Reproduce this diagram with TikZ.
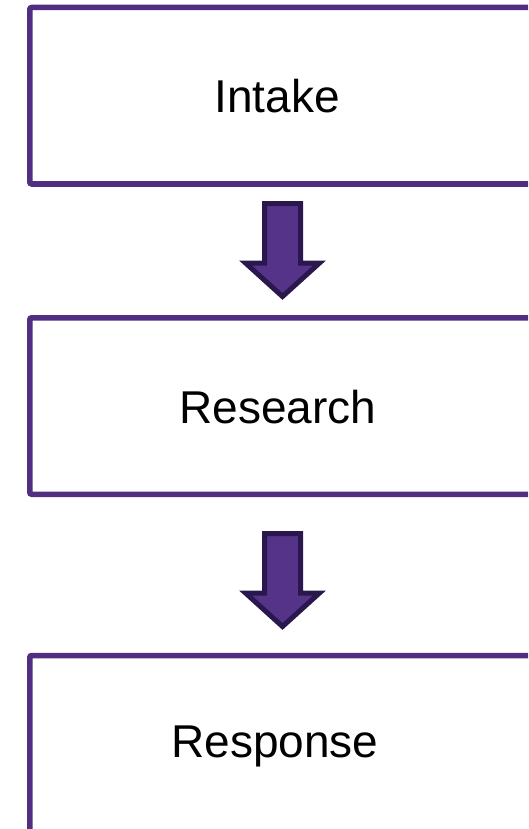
\documentclass[tikz,border=0pt]{standalone}
\usepackage{fontspec}
\setmainfont{Liberation Sans}
\usetikzlibrary{calc}
\definecolor{boxline}{HTML}{512E80}
\definecolor{arrfill}{HTML}{553388}
\definecolor{arrline}{HTML}{2A174E}
\tikzset{
  stagebox/.style={draw=boxline, line width=5.5pt, rounded corners=2pt, fill=white, minimum width=515pt, minimum height=176.5pt, inner sep=0pt, outer sep=0pt},
  stagetext/.style={anchor=base, inner sep=0pt, font=\fontsize{46}{55}\selectfont},
  blockarrow/.style={fill=arrfill, draw=arrline, line width=5pt, line join=miter}
}
\begin{document}
\begin{tikzpicture}[x=1pt,y=-1pt]
\useasboundingbox (0,0) rectangle (528,829);
\clip (0,0) rectangle (528,829);
\fill[white] (0,0) rectangle (528,829);
% boxes
\node[stagebox] (intake) at (287.25,95.75) {};
\node[stagebox] (research) at (287.25,406) {};
\node[stagebox] (response) at (287.25,743.75) {};
% texts
\node[stagetext] (tintake) at (277,113) {Intake};
\node[stagetext] (tresearch) at (278,423) {Research};
\node[stagetext] (tresponse) at (275,757) {Response};
% block arrows
\coordinate (a1) at (282.5,203.5);
\coordinate (a2) at (282.5,533.5);
\foreach \a in {a1,a2}{
  \draw[blockarrow] ($(\a)+(-18,0)$) -- ($(\a)+(18,0)$) -- ($(\a)+(18,59.5)$) -- ($(\a)+(37,59.5)$)
     -- ($(\a)+(0,93)$) -- ($(\a)+(-37,59.5)$) -- ($(\a)+(-18,59.5)$) -- cycle;
}
\end{tikzpicture}
\end{document}
